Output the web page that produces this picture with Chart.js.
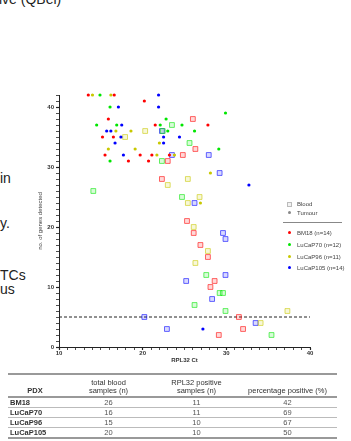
<!DOCTYPE html>
<html>
<head>
<meta charset="utf-8">
<script src="https://cdn.jsdelivr.net/npm/chart.js@4/dist/chart.umd.min.js"></script>
<style>
  html, body { margin: 0; padding: 0; background: #fff; }
  body { width: 351px; height: 441px; position: relative; overflow: hidden; font-family: "Liberation Sans", Arial, sans-serif; }
  #chart { position: absolute; left: 0; top: 0; }
  .side { position: absolute; left: 0; font-size: 14px; line-height: 14px; color: #222; white-space: nowrap; }
  .lg { position: absolute; left: 297px; font-size: 6px; line-height: 8px; color: #444; white-space: nowrap; }
  .mk { position: absolute; box-sizing: border-box; }
  #tbl { position: absolute; left: 8px; top: 373px; width: 329px; border-collapse: collapse; table-layout: fixed; font-size: 7.5px; color: #555; }
  #tbl td { padding: 0; line-height: 8px; }
  #tbl tr.hd td { color: #333; vertical-align: bottom; height: 20px; border-top: 2px solid #999; border-bottom: 2px solid #999; }
  #tbl tr.row td { height: 9px; border-bottom: 1px solid #bbb; text-align: center; }
  #tbl tr.row td:first-child { text-align: left; font-weight: bold; color: #333; padding-left: 2px; }
  #tbl tr.last td { border-bottom: 2px solid #999; }
</style>
</head>
<body>
<div class="side" style="top:-8px; left:-1px;">ive (QBel)</div>
<div class="side" style="top:171px;">in</div>
<div class="side" style="top:216px;">y.</div>
<div class="side" style="top:268px;">TCs</div>
<div class="side" style="top:282px;">us</div>

<canvas id="chart" width="351" height="441"></canvas>

<div class="mk" style="left:287px; top:202px; width:5px; height:5px; border:1px solid #bbb; background:#f2f2f2;"></div>
<div class="lg" style="top:200px;">Blood</div>
<div class="mk" style="left:288px; top:211px; width:3px; height:3px; border-radius:50%; background:#888;"></div>
<div class="lg" style="top:209px;">Tumour</div>
<div class="mk" style="left:283px; top:222px; width:59px; height:0; border-top:1.5px solid #888;"></div>
<div class="mk" style="left:288px; top:231px; width:3px; height:3px; border-radius:50%; background:#f00;"></div>
<div class="lg" style="top:229px;">BM18 (n=14)</div>
<div class="mk" style="left:288px; top:243px; width:3px; height:3px; border-radius:50%; background:#00e600;"></div>
<div class="lg" style="top:241px;">LuCaP70 (n=12)</div>
<div class="mk" style="left:288px; top:255px; width:3px; height:3px; border-radius:50%; background:#c8c800;"></div>
<div class="lg" style="top:253px;">LuCaP96 (n=11)</div>
<div class="mk" style="left:288px; top:266px; width:3px; height:3px; border-radius:50%; background:#00f;"></div>
<div class="lg" style="top:264px;">LuCaP105 (n=14)</div>

<table id="tbl">
  <colgroup><col style="width:54px"><col style="width:93px"><col style="width:83px"><col style="width:99px"></colgroup>
  <tbody id="tbody"></tbody>
</table>

<script>
'use strict';

// Ct values (x) and number of genes detected (y)
const bm18TumourCt    = [13.5, 16.6, 20.2, 15.9, 21.5, 27.8, 15.2, 16.5, 15.5, 19.7, 21.1, 23.2, 18.3, 20.7];
const bm18TumourGenes = [42, 42, 41, 38, 37, 37, 35, 35, 32, 32, 32, 32, 31, 31];
const bm18BloodCt     = [26.0, 26.3, 24.8, 23.0, 22.3, 25.3, 26.1, 26.9, 27.8, 28.6, 28.1, 31.5, 32.0, 29.1];
const bm18BloodGenes  = [38, 33, 32, 31, 28, 21, 19, 17, 15, 11, 10, 5, 3, 2];

const lu70TumourCt    = [14.9, 16.1, 22.8, 29.9, 14.5, 16.9, 22.1, 24.7, 23.0, 26.2, 29.1, 16.1];
const lu70TumourGenes = [42, 40, 38, 39, 37, 37, 37, 37, 36, 36, 33, 31];
const lu70BloodCt     = [23.5, 22.4, 25.6, 22.3, 14.1, 24.7, 27.6, 29.2, 29.6, 26.2, 29.9, 35.4];
const lu70BloodGenes  = [37, 36, 34, 31, 26, 25, 12, 9, 9, 7, 6, 2];

const lu96TumourCt    = [14.0, 16.2, 16.8, 18.6, 22.0, 15.9, 19.1, 21.7, 23.8, 28.1, 26.9];
const lu96TumourGenes = [42, 42, 36, 36, 34, 33, 33, 32, 32, 29, 24];
const lu96BloodCt     = [20.3, 17.9, 25.4, 23.0, 26.8, 25.4, 26.1, 27.8, 26.3, 37.3, 34.1];
const lu96BloodGenes  = [36, 35, 28, 27, 25, 24, 20, 16, 14, 6, 4];

const lu105TumourCt    = [21.9, 17.1, 21.9, 17.5, 15.7, 16.2, 17.4, 22.5, 24.4, 16.7, 22.5, 17.7, 32.7, 27.2];
const lu105TumourGenes = [42, 40, 40, 37, 36, 36, 35, 35, 35, 34, 34, 32, 27, 3];
const lu105BloodCt     = [22.3, 23.5, 27.9, 29.2, 26.2, 29.6, 29.9, 29.9, 25.2, 28.3, 20.2, 33.5, 22.9];
const lu105BloodGenes  = [36, 32, 32, 29, 24, 19, 18, 12, 11, 8, 5, 4, 3];

const cutoffCt    = [10, 40];
const cutoffGenes = [5, 5];

// table below the plot
const pdxNames      = ['BM18', 'LuCaP70', 'LuCaP96', 'LuCaP105'];
const totalBlood    = [26, 16, 15, 20];
const rplPositive   = [11, 11, 10, 10];
const pctPositive   = [42, 69, 67, 50];

const FONT = '"Liberation Sans", Arial, sans-serif';
const COLORS = { red: [255, 0, 0], green: [0, 230, 0], yellow: [200, 200, 0], blue: [0, 0, 255] };

const rgba = (c, a) => `rgba(${c[0]},${c[1]},${c[2]},${a})`;
const pts = (xs, ys) => xs.map((x, i) => ({ x, y: ys[i] }));

function tumour(c, xs, ys) {
  return { data: pts(xs, ys), pointStyle: 'circle', pointRadius: 1.6, borderWidth: 0,
    backgroundColor: rgba(c, 1), borderColor: rgba(c, 1), clip: false };
}
function blood(c, xs, ys) {
  return { data: pts(xs, ys), pointStyle: 'rect', pointRadius: 3.4, borderWidth: 1,
    backgroundColor: rgba(c, 0.15), borderColor: rgba(c, 0.6), clip: false };
}

// first dataset is drawn last (on top)
const datasets = [
  tumour(COLORS.red, bm18TumourCt, bm18TumourGenes),
  tumour(COLORS.green, lu70TumourCt, lu70TumourGenes),
  tumour(COLORS.yellow, lu96TumourCt, lu96TumourGenes),
  tumour(COLORS.blue, lu105TumourCt, lu105TumourGenes),
  blood(COLORS.red, bm18BloodCt, bm18BloodGenes),
  blood(COLORS.green, lu70BloodCt, lu70BloodGenes),
  blood(COLORS.yellow, lu96BloodCt, lu96BloodGenes),
  blood(COLORS.blue, lu105BloodCt, lu105BloodGenes),
  { data: pts(cutoffCt, cutoffGenes), showLine: true, borderColor: '#222', borderWidth: 1,
    borderDash: [3, 2], pointRadius: 0, clip: false },
];

const tickFont = { family: FONT, size: 6, weight: 'bold' };
const axisCommon = {
  type: 'linear',
  grid: { drawOnChartArea: false, drawTicks: true, tickLength: 3, tickColor: '#222',
    tickWidth: c => (c.tick && c.tick.value % 10 === 0) ? 1.2 : 0.8 },
  border: { color: '#222', width: 1 },
};

new Chart(document.getElementById('chart').getContext('2d'), {
  type: 'scatter',
  data: { datasets },
  options: {
    responsive: false,
    animation: false,
    devicePixelRatio: 1,
    layout: { padding: { left: 36, right: 41, top: 95, bottom: 77 } },
    plugins: { legend: { display: false }, tooltip: { enabled: false } },
    scales: {
      x: {
        ...axisCommon,
        min: 10, max: 40,
        afterFit: s => { s.height = 17; },
        ticks: { stepSize: 1, autoSkip: false, maxRotation: 0, padding: 0, color: '#333', font: tickFont,
          callback: v => v % 10 === 0 ? v : '' },
        title: { display: true, text: 'RPL32 Ct', color: '#333', font: tickFont, padding: 0 },
      },
      y: {
        ...axisCommon,
        min: 0, max: 42,
        afterFit: s => { s.width = 23; },
        ticks: { stepSize: 1, autoSkip: false, padding: 2, color: '#333', font: tickFont,
          callback: v => v % 10 === 0 ? v : '' },
        title: { display: true, text: 'no. of genes detected', color: '#444', font: { family: FONT, size: 6 }, padding: 1 },
      },
    },
  },
});

// table
const tbody = document.getElementById('tbody');
tbody.innerHTML =
  `<tr class="hd"><td style="text-align:center;font-weight:bold;padding-bottom:1px">PDX</td>` +
  `<td style="text-align:center;padding-bottom:1px">total blood<br>samples (n)</td>` +
  `<td style="text-align:center;padding-bottom:1px">RPL32 positive<br>samples (n)</td>` +
  `<td style="text-align:center;padding-bottom:1px">percentage positive (%)</td></tr>` +
  pdxNames.map((p, i) =>
    `<tr class="row${i === pdxNames.length - 1 ? ' last' : ''}"><td>${p}</td><td>${totalBlood[i]}</td>` +
    `<td>${rplPositive[i]}</td><td>${pctPositive[i]}</td></tr>`).join('');
</script>
</body>
</html>
